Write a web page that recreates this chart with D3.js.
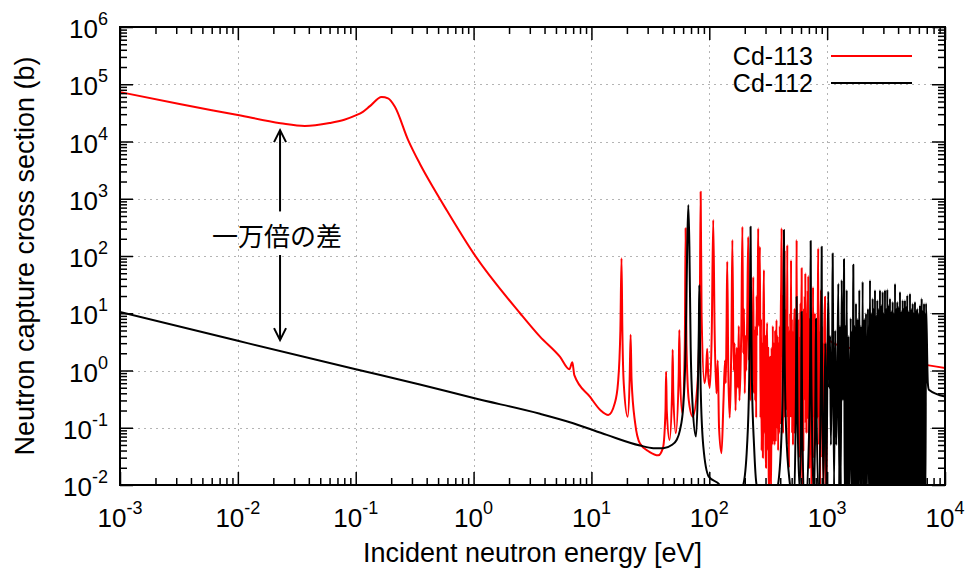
<!DOCTYPE html>
<html>
<head>
<meta charset="utf-8">
<script src="https://cdn.jsdelivr.net/npm/d3@7"></script>
<style>
  body { margin: 0; background: #fff; }
  text { font-family: "Liberation Sans", Arial, Helvetica, sans-serif; fill: #000; }
</style>
</head>
<body>
<svg id="chart" width="968" height="568"></svg>
<script>
// ---- data (energy in eV, cross section in barns) ----
const xTickExps = [-3, -2, -1, 0, 1, 2, 3, 4];
const yTickExps = [-2, -1, 0, 1, 2, 3, 4, 5, 6];
const seriesNames = ['Cd-113', 'Cd-112'];
const xTitle = 'Incident neutron energy [eV]';
const yTitle = 'Neutron capture cross section (b)';
const noteText = '一万倍の差';
// arrow: energy, top tip, top tail, bottom tail, bottom tip
const noteArrow = [0.0228, 1.58e4, 600, 104, 3.4];
const noteLabelAt = [0.0228, 217];

const cd113 = [
  [0.001, 73000], [0.0032, 45000], [0.01, 29000], [0.023, 20800], [0.037, 18600],
  [0.06, 21000], [0.08, 24000], [0.1, 28500], [0.115, 33000], [0.132, 41500],
  [0.166, 60000], [0.188, 56700], [0.215, 40500], [0.278, 10700], [0.35, 4100],
  [0.457, 1540], [0.59, 636], [1.0, 111], [2.48, 10], [3.66, 3.9], [5.4, 1.74],
  [6.5, 1.05], [6.89, 1.39], [7.16, 0.83], [9.7, 0.35], [12.0, 0.2], [13.9, 0.167],
  [15.8, 0.27], [16.8, 0.6], [17.6, 5], [18.0, 91], [18.3, 5], [18.8, 0.6],
  [20.3, 0.156], [21.1, 0.7], [21.5, 4.2], [21.9, 0.7], [23.5, 0.12], [25.8, 0.053],
  [31, 0.038], [36.9, 0.033], [40.5, 0.045], [42.5, 0.2], [43, 0.95], [43.6, 0.2],
  [46, 0.061], [48.3, 0.4], [48.9, 2.3], [49.5, 0.4], [52, 0.08], [55, 0.8],
  [55.7, 5.1], [56.5, 0.8], [59, 0.18], [62, 3], [63, 305], [64, 3], [67, 0.3],
  [72.3, 0.156], [79, 0.5], [83, 10], [84.5, 1330], [86, 10], [91, 0.6], [94, 1.0],
  [96, 2.4], [98, 0.8], [101, 0.5], [105, 5], [108, 425], [111, 5], [115, 0.4],
  [118, 1.5], [121, 0.1], [127, 0.036], [132, 0.3], [136, 1.5], [138, 0.6], [140, 5],
  [142, 80], [145, 1.0], [149, 0.15], [152, 0.6], [154, 3], [157, 190], [161, 1],
  [164, 3], [167, 0.2], [171, 2.5], [175, 0.5], [178, 6], [180, 0.3], [184, 1],
  [187, 5], [191, 325], [194, 2], [197, 12], [200, 0.4], [203, 4], [206, 1],
  [210, 10], [214, 217], [217, 1.5], [220, 12], [223, 0.3], [226, 3], [229, 0.6],
  [232, 8], [234, 2], [236, 43], [239, 0.4], [242, 5], [245, 0.3], [248, 6],
  [250, 0.15], [252, 20], [255, 4], [258, 30], [260, 305], [263, 6], [266, 40],
  [269, 145], [272, 0.15], [275, 8], [278, 0.04], [282, 3], [285, 0.03], [288, 10],
  [291, 57], [294, 0.08], [297, 4], [300, 0.05], [303, 0.02], [306, 2], [310, 6.8],
  [313, 0.04], [316, 2.5], [319, 0.02], [321, 0.006], [324, 0.1], [327, 1.74],
  [331, 0.04], [335, 0.008], [338, 2.5], [342, 0.05], [346, 6], [350, 0.06],
  [354, 3], [358, 0.05], [362, 5], [366, 0.06], [369, 2], [372, 7.6], [376, 0.1],
  [380, 4], [384, 0.04], [388, 3], [392, 0.08], [396, 6], [400, 0.12], [404, 8],
  [408, 40], [411, 305], [414, 4], [417, 20], [420, 0.3], [423, 0.08], [427, 8],
  [431, 0.3], [436, 127], [440, 0.15], [444, 12], [447, 0.2], [450, 5], [454, 0.3],
  [459, 156], [462, 0.15], [465, 6], [468, 0.05], [471, 2], [474, 0.02], [478, 5],
  [482, 0.15], [486, 10], [490, 0.4], [494, 85], [498, 0.15], [502, 8], [505, 0.08],
  [509, 5], [513, 0.05], [517, 3], [521, 0.12], [525, 6], [529, 12], [533, 0.08],
  [537, 4], [541, 8], [545, 0.15], [549, 20], [551, 190], [555, 0.3], [559, 10],
  [563, 0.08], [567, 8], [571, 0.05], [575, 3], [579, 0.03], [583, 4], [587, 0.15],
  [591, 6], [595, 15], [599, 0.15], [603, 4], [608, 61], [612, 0.05], [616, 0.006],
  [620, 2], [624, 5], [628, 0.04], [632, 6], [636, 12], [640, 0.4], [645, 20],
  [649, 0.3], [653, 50], [658, 0.12], [662, 4], [666, 0.08], [670, 10], [675, 0.15],
  [679, 6], [684, 25], [688, 0.3], [692, 45], [697, 0.08], [701, 3], [705, 0.02],
  [710, 3], [714, 8], [719, 0.08], [724, 2], [729, 6], [735, 0.005], [741, 2],
  [748, 5], [753, 0.15], [759, 28.7], [765, 0.3], [770, 6], [776, 0.03], [782, 3],
  [788, 10], [795, 0.05], [800, 4], [806, 0.06], [812, 6], [818, 0.15], [826, 2],
  [833, 10], [840, 136], [846, 0.15], [851, 5], [855, 0.05], [862, 4], [870, 0.006],
  [878, 5], [887, 25.5], [893, 0.15], [900, 6], [910, 0.03], [920, 3], [930, 0.006],
  [945, 5], [959, 19.5], [972, 0.05], [985, 0.005], [1000, 2], [1017, 3.4],
  [1127, 3.0], [1900, 2.28], [3640, 1.63], [10000, 1.1]
];

const cd112 = [
  [0.001, 10.5], [0.01, 3.3], [0.1, 1.05], [0.35, 0.57], [1, 0.33], [3.66, 0.175],
  [7.0, 0.12], [13.5, 0.075], [25.8, 0.049], [33.5, 0.044], [40.7, 0.044], [48, 0.05],
  [52.8, 0.061], [56.4, 0.091], [60.1, 0.233], [63, 2.6], [65, 145], [66.4, 780],
  [67.8, 145], [69.5, 2.6], [72.3, 0.233], [77.1, 0.07], [80, 0.5], [81.5, 5],
  [82.3, 31], [83.2, 5], [84.5, 0.5], [89, 0.047], [99, 0.014], [123, 0.01],
  [150, 0.004], [194, 0.01], [209, 0.047], [218, 0.68], [222, 20], [224, 325],
  [226, 20], [230, 0.68], [240, 0.047], [252, 0.01], [320, 0.003], [383, 0.01],
  [412, 0.1], [425, 3], [430, 285], [435, 3], [448, 0.1], [484, 0.01], [520, 0.004],
  [542, 0.2], [551, 19.5], [560, 0.2], [585, 0.008], [602, 0.3], [608, 10.6],
  [614, 0.1], [650, 0.004], [705, 0.1], [720, 5], [725, 183], [730, 5], [745, 0.1],
  [775, 0.005], [796, 0.5], [804, 8], [812, 0.3], [850, 0.005], [885, 1], [896, 30],
  [899, 145], [903, 3], [930, 0.01], [965, 3], [985, 0.01], [1005, 1], [1023, 23.8],
  [1040, 0.5], [1060, 4], [1075, 0.05], [1105, 5], [1114, 111], [1125, 3],
  [1145, 0.01], [1170, 5], [1195, 0.05], [1215, 0.3], [1244, 33], [1265, 0.01],
  [1285, 6], [1305, 0.01], [1328, 38], [1360, 0.3], [1385, 10], [1390, 87.5],
  [1398, 5], [1410, 0.005], [1430, 6], [1445, 0.005], [1465, 25.5], [1490, 0.01],
  [1515, 4], [1540, 0.005], [1585, 8.2], [1610, 0.005], [1630, 5], [1645, 0.01],
  [1660, 10], [1667, 70], [1675, 5], [1690, 0.005], [1715, 6], [1735, 0.005],
  [1757, 14.9], [1785, 0.005], [1810, 8], [1840, 0.005], [1875, 25.5], [1905, 0.005],
  [1935, 6], [1965, 0.005], [2001, 35.6], [2035, 0.005], [2070, 8], [2100, 0.005],
  [2136, 10], [2175, 0.005], [2220, 12], [2265, 0.005], [2311, 38], [2340, 0.005],
  [2370, 10], [2400, 0.005], [2434, 18.2], [2460, 0.005], [2490, 12], [2520, 0.005],
  [2547, 25.5], [2575, 0.005], [2605, 9], [2635, 0.005], [2666, 17], [2700, 0.005],
  [2735, 12], [2770, 0.005], [2806, 25.5], [2840, 0.005], [2880, 14], [2920, 0.005],
  [2957, 23.8], [2990, 0.005], [3025, 10], [3060, 0.005], [3097, 25.5], [3130, 0.005],
  [3165, 12], [3200, 0.005], [3238, 26.2], [3280, 0.005], [3325, 14], [3370, 0.005],
  [3413, 18.2], [3460, 0.005], [3505, 11], [3550, 0.005], [3597, 15.9], [3640, 0.005],
  [3680, 10], [3720, 0.005], [3767, 33], [3810, 0.005], [3850, 12], [3895, 0.005],
  [3938, 15.9], [3990, 0.005], [4040, 13], [4095, 0.005], [4150, 23.8], [4205, 0.005],
  [4260, 11], [4320, 0.005], [4375, 17], [4425, 0.005], [4475, 12], [4525, 0.005],
  [4574, 17], [4625, 0.005], [4680, 13], [4735, 0.005], [4786, 20.8], [4850, 0.005],
  [4915, 11], [4980, 0.005], [5046, 22.3], [5110, 0.005], [5180, 12], [5250, 0.005],
  [5321, 14.9], [5380, 0.005], [5440, 10], [5500, 0.005], [5564, 15.9], [5625, 0.005],
  [5690, 11], [5750, 0.005], [5818, 12.2], [5895, 0.005], [5975, 10], [6055, 0.005],
  [6137, 13.9], [6185, 0.005], [6235, 9], [6285, 0.005], [6339, 18.2], [6410, 0.005],
  [6485, 11], [6560, 0.005], [6637, 14.9], [6700, 0.005], [6765, 10], [6830, 0.005],
  [6899, 14.9], [7150, 0.6], [7300, 0.46], [10000, 0.35]
];

// ---- layout ----
const plot = { left: 120, right: 945, top: 27, bottom: 485 };
const colors = ['#ff0000', '#000000'];
const FONT = 26, SUP = 18;

const svg = d3.select('#chart');

const x = d3.scaleLog().domain([1e-3, 1e4]).range([plot.left, plot.right]);
const y = d3.scaleLog().domain([1e-2, 1e6]).range([plot.bottom, plot.top]);

const xMajors = xTickExps.map(e => Math.pow(10, e));
const yMajors = yTickExps.map(e => Math.pow(10, e));
const minorsOf = exps => {
  const out = [];
  exps.slice(0, -1).forEach(e => { for (let k = 2; k <= 9; k++) out.push(k * Math.pow(10, e)); });
  return out;
};
const xMinors = minorsOf(xTickExps);
const yMinors = minorsOf(yTickExps);

// grid
const grid = svg.append('g')
  .attr('stroke', '#b4b4b4')
  .attr('stroke-width', 1)
  .attr('stroke-dasharray', '2,4');
grid.selectAll('line.gx')
  .data(xMajors.slice(1, -1))
  .enter().append('line')
  .attr('x1', d => Math.round(x(d)) + 0.5).attr('x2', d => Math.round(x(d)) + 0.5)
  .attr('y1', plot.top).attr('y2', plot.bottom);
grid.selectAll('line.gy')
  .data(yMajors.slice(1, -1))
  .enter().append('line')
  .attr('y1', d => Math.round(y(d)) + 0.5).attr('y2', d => Math.round(y(d)) + 0.5)
  .attr('x1', plot.left).attr('x2', plot.right);

// data curves
svg.append('clipPath').attr('id', 'clip')
  .append('rect')
  .attr('x', plot.left).attr('y', plot.top)
  .attr('width', plot.right - plot.left).attr('height', plot.bottom - plot.top);

const line = d3.line().x(d => x(d[0])).y(d => y(d[1])).curve(d3.curveMonotoneX);
const curves = svg.append('g').attr('clip-path', 'url(#clip)');
[cd113, cd112].forEach((s, i) => {
  curves.append('path')
    .datum(s)
    .attr('d', line)
    .attr('fill', 'none')
    .attr('stroke', colors[i])
    .attr('stroke-width', 2)
    .attr('stroke-linejoin', 'round');
});

// ticks on all four sides, pointing inward
function ticks(axisFn, scale, vals, size, transform) {
  const g = svg.append('g')
    .attr('transform', transform)
    .call(axisFn(scale).tickValues(vals).tickSizeInner(size).tickSizeOuter(0).tickFormat(''));
  g.select('.domain').remove();
  g.selectAll('.tick line').attr('stroke', '#000').attr('stroke-width', 1.5);
  return g;
}
ticks(d3.axisBottom, x, xMajors, -13, `translate(0,${plot.bottom})`);
ticks(d3.axisBottom, x, xMinors, -7, `translate(0,${plot.bottom})`);
ticks(d3.axisTop, x, xMajors, -13, `translate(0,${plot.top})`);
ticks(d3.axisTop, x, xMinors, -7, `translate(0,${plot.top})`);
ticks(d3.axisLeft, y, yMajors, -13, `translate(${plot.left},0)`);
ticks(d3.axisLeft, y, yMinors, -7, `translate(${plot.left},0)`);
ticks(d3.axisRight, y, yMajors, -13, `translate(${plot.right},0)`);
ticks(d3.axisRight, y, yMinors, -7, `translate(${plot.right},0)`);

// border
svg.append('rect')
  .attr('x', plot.left).attr('y', plot.top)
  .attr('width', plot.right - plot.left).attr('height', plot.bottom - plot.top)
  .attr('fill', 'none').attr('stroke', '#000').attr('stroke-width', 2);

// tick labels as 10^n
function powLabel(sel, exp) {
  sel.append('tspan').text('10');
  sel.append('tspan').attr('dy', -13).attr('font-size', SUP).text(String(exp));
}
xTickExps.forEach(e => {
  svg.append('text')
    .attr('x', x(Math.pow(10, e))).attr('y', plot.bottom + 42)
    .attr('text-anchor', 'middle').attr('font-size', FONT)
    .call(powLabel, e);
});
yTickExps.forEach(e => {
  svg.append('text')
    .attr('x', plot.left - 12).attr('y', y(Math.pow(10, e)) + 11)
    .attr('text-anchor', 'end').attr('font-size', FONT)
    .call(powLabel, e);
});

// axis titles
svg.append('text')
  .attr('x', (plot.left + plot.right) / 2).attr('y', 562)
  .attr('text-anchor', 'middle').attr('font-size', 27)
  .text(xTitle);
svg.append('text')
  .attr('transform', `translate(34,${(plot.top + plot.bottom) / 2}) rotate(-90)`)
  .attr('text-anchor', 'middle').attr('font-size', 27)
  .text(yTitle);

// legend
seriesNames.forEach((name, i) => {
  const ly = 56 + i * 27;
  svg.append('text')
    .attr('x', 813).attr('y', ly + 9)
    .attr('text-anchor', 'end').attr('font-size', 25)
    .text(name);
  svg.append('line')
    .attr('x1', 831).attr('x2', 912).attr('y1', ly).attr('y2', ly)
    .attr('stroke', colors[i]).attr('stroke-width', 2);
});

// annotation: double arrow with label
const ax = x(noteArrow[0]);
const arrows = svg.append('g').attr('stroke', '#000').attr('stroke-width', 2).attr('fill', 'none');
arrows.append('line').attr('x1', ax).attr('x2', ax).attr('y1', y(noteArrow[1])).attr('y2', y(noteArrow[2]));
arrows.append('line').attr('x1', ax).attr('x2', ax).attr('y1', y(noteArrow[3])).attr('y2', y(noteArrow[4]));
const tipTop = y(noteArrow[1]), tipBot = y(noteArrow[4]);
arrows.append('path').attr('d', `M${ax - 6},${tipTop + 12}L${ax},${tipTop}L${ax + 6},${tipTop + 12}`);
arrows.append('path').attr('d', `M${ax - 6},${tipBot - 12}L${ax},${tipBot}L${ax + 6},${tipBot - 12}`);
svg.append('text')
  .attr('x', x(noteLabelAt[0]) - 3).attr('y', y(noteLabelAt[1]) + 9)
  .attr('text-anchor', 'middle').attr('font-size', 26)
  .style('font-family', '"Noto Sans CJK JP", sans-serif')
  .text(noteText);
</script>
</body>
</html>
